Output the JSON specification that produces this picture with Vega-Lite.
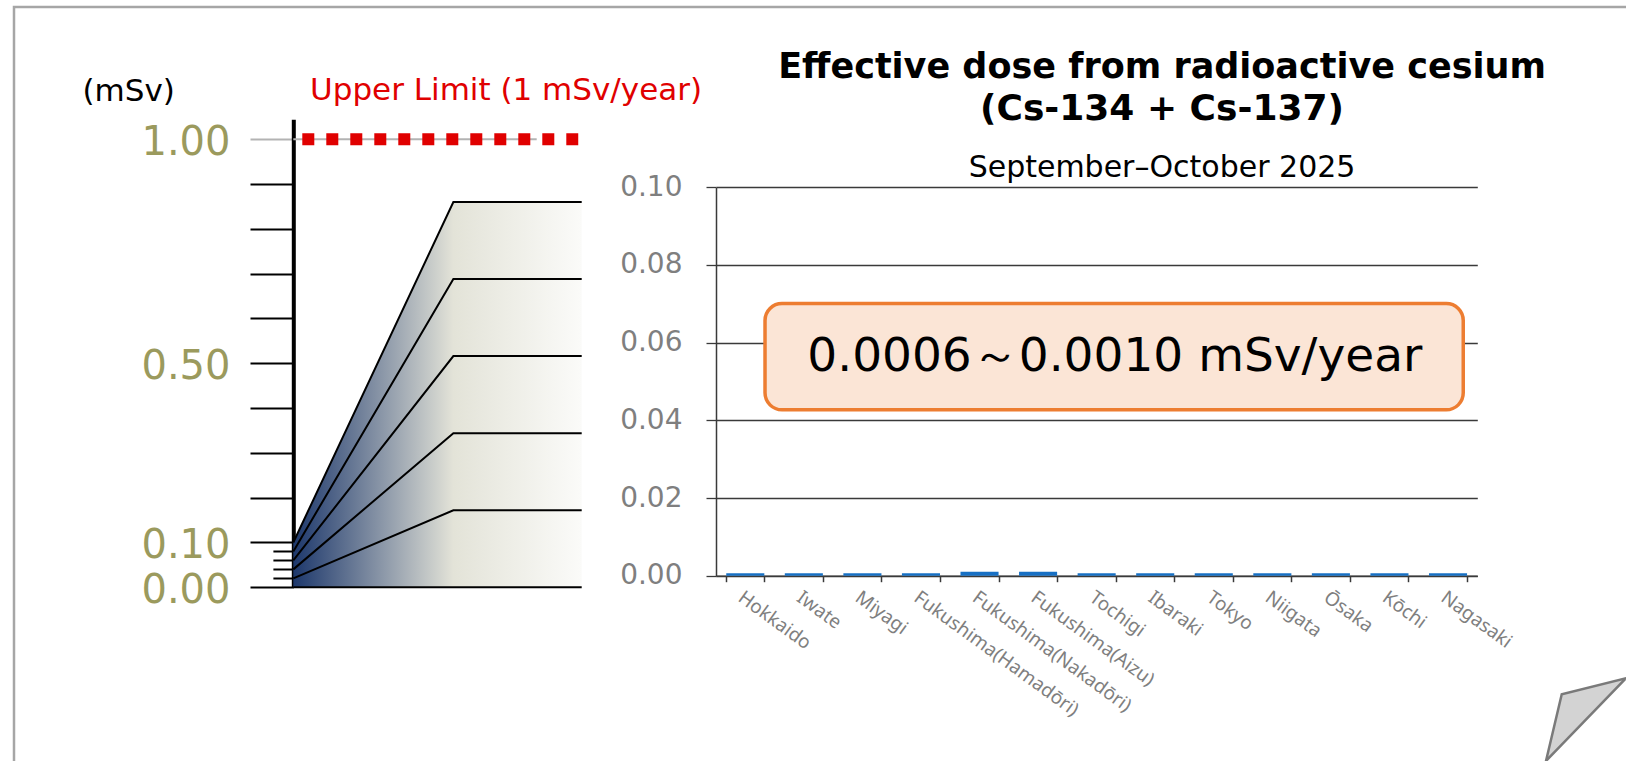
{
  "$schema": "https://vega.github.io/schema/vega-lite/v6.json",
  "width": 1618,
  "height": 760,
  "autosize": "none",
  "padding": {"left": 14, "top": 7, "right": -6, "bottom": -6},
  "background": "white",
  "config": {"view": {"stroke": "#a6a6a6", "strokeWidth": 2.5}, "font": "DejaVu Sans"},
  "datasets": {
    "stations": [
      {"region": "Hokkaido", "dose": 0.0006},
      {"region": "Iwate", "dose": 0.0006},
      {"region": "Miyagi", "dose": 0.0006},
      {"region": "Fukushima(Hamadōri)", "dose": 0.0006},
      {"region": "Fukushima(Nakadōri)", "dose": 0.0010},
      {"region": "Fukushima(Aizu)", "dose": 0.0010},
      {"region": "Tochigi", "dose": 0.0006},
      {"region": "Ibaraki", "dose": 0.0006},
      {"region": "Tokyo", "dose": 0.0006},
      {"region": "Niigata", "dose": 0.0006},
      {"region": "Ōsaka", "dose": 0.0006},
      {"region": "Kōchi", "dose": 0.0006},
      {"region": "Nagasaki", "dose": 0.0006}
    ],
    "fan": [
      {"level": 0.10, "stage": 0, "dose": 0.10},
      {"level": 0.10, "stage": 0.555, "dose": 0.86},
      {"level": 0.10, "stage": 1, "dose": 0.86},
      {"level": 0.08, "stage": 0, "dose": 0.08},
      {"level": 0.08, "stage": 0.555, "dose": 0.688},
      {"level": 0.08, "stage": 1, "dose": 0.688},
      {"level": 0.06, "stage": 0, "dose": 0.06},
      {"level": 0.06, "stage": 0.555, "dose": 0.516},
      {"level": 0.06, "stage": 1, "dose": 0.516},
      {"level": 0.04, "stage": 0, "dose": 0.04},
      {"level": 0.04, "stage": 0.555, "dose": 0.344},
      {"level": 0.04, "stage": 1, "dose": 0.344},
      {"level": 0.02, "stage": 0, "dose": 0.02},
      {"level": 0.02, "stage": 0.555, "dose": 0.172},
      {"level": 0.02, "stage": 1, "dose": 0.172}
    ],
    "limit": [{"label": "Upper Limit (1 mSv/year)", "limit": 1}],
    "range": [{"text": "0.0006～0.0010 mSv/year"}],
    "heading": [{"title": "Effective dose from radioactive cesium", "nuclides": "(Cs-134 + Cs-137)", "period": "September–October 2025"}],
    "curl": [
      {"u": 14.173, "top": -0.0477, "bottom": -0.0477},
      {"u": 14.442, "top": -0.0305, "bottom": -0.0435},
      {"u": 15.54, "top": -0.0264, "bottom": -0.0264}
    ]
  },
  "layer": [
    {
      "layer": [
        {
          "data": {"name": "fan"},
          "transform": [{"filter": "datum.level == 0.1"}],
          "mark": {"type": "area", "fill": {"gradient": "linear", "x1": 0, "y1": 0, "x2": 1, "y2": 0, "stops": [{"offset": 0, "color": "#1d386c"}, {"offset": 0.555, "color": "#e3e3d8"}, {"offset": 1, "color": "#fbfbf9"}]}},
          "encoding": {
            "x": {"field": "stage", "type": "quantitative", "scale": {"domain": [0, 1], "range": [279.3, 567.7]}, "axis": null},
            "y": {"field": "dose", "type": "quantitative", "scale": {"domain": [0, 1.0446], "range": [580.3, 112.3], "nice": false, "zero": false},
              "axis": {"orient": "left", "offset": -279.3, "values": [0, 0.1, 0.2, 0.3, 0.4, 0.5, 0.6, 0.7, 0.8, 0.9, 1],
                "format": ".2f", "labelExpr": "(datum.value == 0 || datum.value == 0.1 || datum.value == 0.5 || datum.value == 1) ? datum.label : ''",
                "tickSize": 43.3, "tickWidth": 2, "tickColor": {"condition": {"test": "datum.value == 1", "value": "#b3b3b3"}, "value": "black"},
                "domainColor": "black", "domainWidth": 4, "grid": false,
                "labelFontSize": 40, "labelColor": "#9b9a5d", "labelPadding": 20, "labelFont": "DejaVu Sans", "labelOverlap": false, "labelBaseline": "middle", "labelOffset": 3,
                "title": "(mSv)", "titleAngle": 0, "titleAlign": "left", "titleBaseline": "alphabetic", "titleX": -211.3, "titleY": 93,
                "titleFontSize": 31, "titleFontWeight": "normal", "titleColor": "black", "titleFont": "DejaVu Sans"}}
          }
        },
        {
          "data": {"name": "fan"},
          "mark": {"type": "line", "color": "black", "strokeWidth": 2},
          "encoding": {
            "x": {"field": "stage", "type": "quantitative", "axis": null},
            "y": {"field": "dose", "type": "quantitative"},
            "detail": {"field": "level"}
          }
        },
        {
          "data": {"name": "limit"},
          "mark": {"type": "rule", "color": "#b3b3b3", "strokeWidth": 2},
          "encoding": {
            "x": {"datum": 0, "type": "quantitative", "axis": null},
            "x2": {"datum": 0.844},
            "y": {"field": "limit", "type": "quantitative"}
          }
        },
        {
          "data": {"name": "limit"},
          "mark": {"type": "rule", "color": "black", "strokeWidth": 2},
          "encoding": {
            "x": {"datum": 0, "type": "quantitative", "axis": null},
            "x2": {"datum": 1},
            "y": {"datum": 0, "type": "quantitative"}
          }
        }
      ]
    },
    {
      "data": {"name": "limit"},
      "layer": [
        {
          "mark": {"type": "rule", "color": "#e00000", "strokeWidth": 12, "strokeDash": [12, 12], "strokeCap": "butt"},
          "encoding": {
            "x": {"datum": 0.0312, "type": "quantitative", "scale": {"domain": [0, 1], "range": [279.3, 567.7]}, "axis": null},
            "x2": {"datum": 0.988},
            "y": {"field": "limit", "type": "quantitative", "scale": {"domain": [0, 1.0446], "range": [580.3, 112.3], "nice": false, "zero": false},
              "axis": {"orient": "left", "offset": -279.3, "values": [0.02, 0.04, 0.06, 0.08], "tickSize": 20.4, "tickWidth": 2, "tickColor": "black", "labels": false, "domain": false, "grid": false, "title": null}}
          }
        },
        {
          "mark": {"type": "text", "color": "#e00000", "fontSize": 31, "align": "left", "baseline": "alphabetic", "dy": -39.3, "font": "DejaVu Sans"},
          "encoding": {
            "x": {"datum": 0.058, "type": "quantitative", "axis": null},
            "y": {"field": "limit", "type": "quantitative"},
            "text": {"field": "label"}
          }
        }
      ]
    },
    {
      "data": {"name": "stations"},
      "mark": {"type": "bar", "color": "#1770c4"},
      "encoding": {
        "x": {"field": "region", "type": "nominal", "sort": null,
          "scale": {"range": [702, 1463.3], "paddingInner": 0.35, "paddingOuter": 0.175},
          "axis": {"orient": "bottom", "offset": -191.3, "tickBand": "extent", "tickSize": 6, "tickColor": "#3a3a3a", "tickWidth": 1.5,
            "domainColor": "#3a3a3a", "domainWidth": 1.5, "labelAngle": 36, "labelAlign": "left", "labelBaseline": "top", "labelLimit": 0,
            "labelFont": "Noto Sans", "labelFontSize": 19, "labelColor": "#7f7f7f", "labelPadding": 6, "title": null, "grid": false}},
        "y": {"field": "dose", "type": "quantitative",
          "scale": {"domain": [0, 0.1], "range": [568.7, 180.3], "nice": false},
          "axis": {"orient": "left", "offset": -702, "values": [0, 0.02, 0.04, 0.06, 0.08, 0.1], "format": ".2f",
            "grid": true, "gridColor": "#3a3a3a", "gridWidth": 1.3, "tickSize": 10, "tickColor": "#3a3a3a", "tickWidth": 1.3,
            "domainColor": "#3a3a3a", "domainWidth": 1.5, "labelColor": "#7f7f7f", "labelFontSize": 28, "labelPadding": 24,
            "labelFont": "DejaVu Sans", "title": null}}
      }
    },
    {
      "layer": [
        {
          "data": {"name": "range"},
          "mark": {"type": "rect", "fill": "#fbe5d6", "stroke": "#ed7d31", "strokeWidth": 3.5, "cornerRadius": 17},
          "encoding": {
            "x": {"datum": 0.837, "type": "quantitative", "scale": {"domain": [0, 13], "range": [702, 1463.3]}, "axis": null},
            "x2": {"datum": 12.76},
            "y": {"datum": 0.0701, "type": "quantitative", "scale": {"domain": [0, 0.1], "range": [568.7, 180.3], "nice": false}, "axis": null},
            "y2": {"datum": 0.0427}
          }
        },
        {
          "data": {"name": "range"},
          "mark": {"type": "text", "fontSize": 47, "font": "DejaVu Sans", "align": "center", "baseline": "middle", "color": "black"},
          "encoding": {
            "x": {"datum": 6.81, "type": "quantitative", "axis": null},
            "y": {"datum": 0.0564, "type": "quantitative", "axis": null},
            "text": {"field": "text"}
          }
        },
        {
          "data": {"name": "heading"},
          "mark": {"type": "text", "fontSize": 35, "fontWeight": "bold", "font": "DejaVu Sans", "align": "center", "baseline": "alphabetic", "color": "black"},
          "encoding": {
            "x": {"datum": 7.616, "type": "quantitative", "axis": null},
            "y": {"datum": 0.1281, "type": "quantitative", "axis": null},
            "text": {"field": "title"}
          }
        },
        {
          "data": {"name": "heading"},
          "mark": {"type": "text", "fontSize": 36, "fontWeight": "bold", "font": "DejaVu Sans", "align": "center", "baseline": "alphabetic", "color": "black"},
          "encoding": {
            "x": {"datum": 7.616, "type": "quantitative", "axis": null},
            "y": {"datum": 0.1173, "type": "quantitative", "axis": null},
            "text": {"field": "nuclides"}
          }
        },
        {
          "data": {"name": "heading"},
          "mark": {"type": "text", "fontSize": 30, "font": "DejaVu Sans", "align": "center", "baseline": "alphabetic", "color": "black"},
          "encoding": {
            "x": {"datum": 7.616, "type": "quantitative", "axis": null},
            "y": {"datum": 0.1026, "type": "quantitative", "axis": null},
            "text": {"field": "period"}
          }
        },
        {
          "data": {"name": "curl"},
          "mark": {"type": "area", "fill": "#d3d3d3", "stroke": "#7a7a7a", "strokeWidth": 2.5},
          "encoding": {
            "x": {"field": "u", "type": "quantitative", "axis": null},
            "y": {"field": "top", "type": "quantitative", "axis": null},
            "y2": {"field": "bottom"}
          }
        }
      ]
    }
  ],
  "resolve": {"scale": {"x": "independent", "y": "independent"}}
}
